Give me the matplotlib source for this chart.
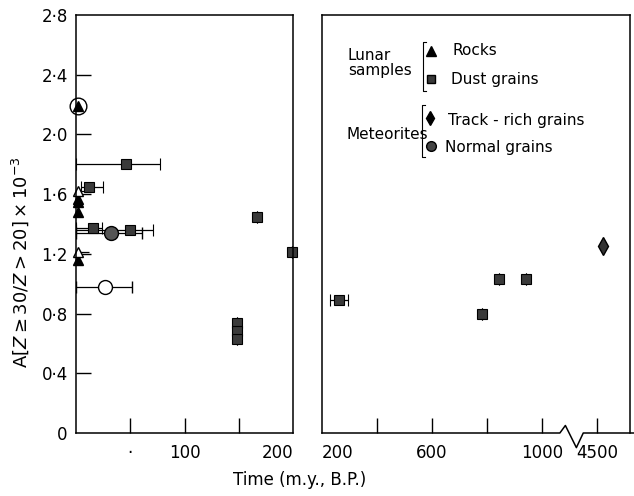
import matplotlib
matplotlib.use("Agg")
import matplotlib.pyplot as plt
import numpy as np

# ---- data (time in m.y. B.P., A[Z>=30/Z>20] x 1e-3) ----
rock_t = [2, 2, 2, 2, 2]
rock_a = [2.19, 1.57, 1.55, 1.48, 1.16]
rock_open_t = [2, 2]
rock_open_a = [1.62, 1.21]
rock_open_err = [[0, 0], [6, 10]]

dust_left_t = [46, 12, 16, 50, 148, 148, 148, 167, 199]
dust_left_a = [1.80, 1.65, 1.37, 1.36, 0.74, 0.68, 0.63, 1.45, 1.21]
dust_left_err = [[46, 7, 16, 50, 0, 0, 0, 0, 0],
                 [31, 13, 8, 21, 0, 0, 0, 0, 0]]

dust_right_t = [262, 782, 844, 942]
dust_right_a = [0.89, 0.80, 1.03, 1.03]
dust_right_err = [[33, 0, 0, 0], [33, 0, 0, 0]]

normal_t = [32]
normal_a = [1.34]
normal_err = [[32], [29]]

open_circle_t = [27]
open_circle_a = [0.98]
open_circle_err = [[27], [25]]

track_rich_t = [4520]
track_rich_a = [1.25]

yticks = [0, 0.4, 0.8, 1.2, 1.6, 2.0, 2.4, 2.8]
ytick_labels = ["0", "0·4", "0·8", "1·2", "1·6", "2·0", "2·4", "2·8"]

# broken scale for the right panel: 1100..4440 squeezed
brk_in = [0, 1100, 4440, 6000]
brk_out = [0, 1100, 1140, 2700]


def fwd(x):
    return np.interp(x, brk_in, brk_out)


def inv(x):
    return np.interp(x, brk_out, brk_in)


fig = plt.figure(figsize=(6.34, 4.96), dpi=100)
W, H = 634, 496
y0, y1 = 433, 15
ax1 = fig.add_axes([76 / W, 1 - y0 / H, (293 - 76) / W, (y0 - y1) / H])
ax2 = fig.add_axes([322 / W, 1 - y0 / H, (630 - 322) / W, (y0 - y1) / H])

sq = dict(marker="s", ms=7, mfc="#3a3a3a", mec="black", mew=0.8, ls="none",
          ecolor="black", elinewidth=0.9, capsize=4, capthick=0.9)

# ---- left panel ----
ax1.errorbar(dust_left_t, dust_left_a, xerr=dust_left_err, clip_on=False, **sq)
ax1.errorbar(normal_t, normal_a, xerr=normal_err, marker="o", ms=10, mfc="#555555",
             mec="black", ls="none", ecolor="black", elinewidth=0.9, capsize=4)
ax1.errorbar(open_circle_t, open_circle_a, xerr=open_circle_err, marker="o", ms=10,
             mfc="white", mec="black", ls="none", ecolor="black", elinewidth=0.9, capsize=4)
ax1.errorbar(rock_open_t, rock_open_a, xerr=rock_open_err, marker="^", ms=7, mfc="white",
             mec="black", ls="none", ecolor="black", elinewidth=0.9, capsize=0, clip_on=False)
ax1.plot(rock_t, rock_a, "^", ms=7, color="black", clip_on=False)
ax1.plot(rock_t[:1], rock_a[:1], "o", ms=12, mfc="none", mec="black", mew=1.0, clip_on=False)

ax1.set_xlim(0, 200)
ax1.set_ylim(0, 2.8)
ax1.set_yticks(yticks)
ax1.set_yticklabels(ytick_labels)
ax1.set_xticks([50, 100, 150, 200])
ax1.set_xticklabels(["·", "100", "", "200"])
ax1.get_xticklabels()[3].set_ha("right")
ax1.tick_params(axis="both", direction="in", length=11, width=1, labelsize=12, pad=8)
ax1.tick_params(axis="y", pad=6)
ax1.xaxis.get_major_ticks()[3].tick1line.set_visible(False)
ax1.yaxis.get_major_ticks()[0].tick1line.set_visible(False)
ax1.yaxis.get_major_ticks()[-1].tick1line.set_visible(False)

# ---- right panel ----
ax2.set_xscale("function", functions=(fwd, inv))
ax2.errorbar(dust_right_t, dust_right_a, xerr=dust_right_err, **sq)
ax2.plot(track_rich_t, track_rich_a, "d", ms=9, color="black", mfc="#333333")
ax2.set_xlim(200, 4620)
ax2.set_ylim(0, 2.8)
ax2.set_yticks([])
ax2.set_xticks([200, 400, 600, 800, 1000, 4500])
ax2.set_xticklabels(["200", "", "600", "", "1000", "4500"])
ax2.get_xticklabels()[0].set_ha("left")
ax2.tick_params(axis="x", direction="in", length=11, width=1, labelsize=12, pad=8)
ax2.xaxis.get_major_ticks()[0].tick1line.set_visible(False)

for ax in (ax1, ax2):
    for s in ax.spines.values():
        s.set_linewidth(1.1)

# bottom spine of right panel with a zigzag break
ax2.spines["bottom"].set_visible(False)
tb = ax2.get_xaxis_transform()
zx = [200, 1065, 1085, 1125, 1150, 4620]
zy = [0, 0, 0.018, -0.035, 0, 0]
ax2.plot([inv(v) for v in zx], zy, color="black", lw=1.1, transform=tb, clip_on=False)

# ---- legend drawn by hand ----
t = ax2.transAxes
fs = 11
ax2.text(0.084, 0.885, "Lunar\nsamples", transform=t, fontsize=fs, va="center", linespacing=1.0)
ax2.plot([0.338, 0.328, 0.328, 0.338], [0.935, 0.935, 0.818, 0.818], color="black", lw=0.8,
         transform=t)
ax2.plot([0.354], [0.914], "^", ms=7, color="black", transform=t)
ax2.plot([0.354], [0.847], "s", ms=6, mfc="#3a3a3a", mec="black", transform=t)
ax2.text(0.425, 0.914, "Rocks", transform=t, fontsize=fs, va="center")
ax2.text(0.42, 0.845, "Dust grains", transform=t, fontsize=fs, va="center")

ax2.text(0.078, 0.715, "Meteorites", transform=t, fontsize=fs, va="center")
ax2.plot([0.335, 0.325, 0.325, 0.335], [0.785, 0.785, 0.660, 0.660], color="black", lw=0.8,
         transform=t)
ax2.plot([0.351], [0.754], "d", ms=7, color="black", transform=t)
ax2.plot([0.354], [0.687], "o", ms=7, mfc="#444444", mec="black", transform=t)
ax2.text(0.41, 0.747, "Track - rich grains", transform=t, fontsize=fs, va="center")
ax2.text(0.40, 0.682, "Normal grains", transform=t, fontsize=fs, va="center")

fig.text(300 / W, 1 - 480 / H, "Time (m.y., B.P.)", fontsize=12, ha="center", va="center")
fig.text(20 / W, 1 - 262 / H, r"A$\left[Z\geq30/Z>20\right]\times10^{-3}$", fontsize=13,
         rotation=90, ha="center", va="center")

fig.savefig("out.png", dpi=100)
